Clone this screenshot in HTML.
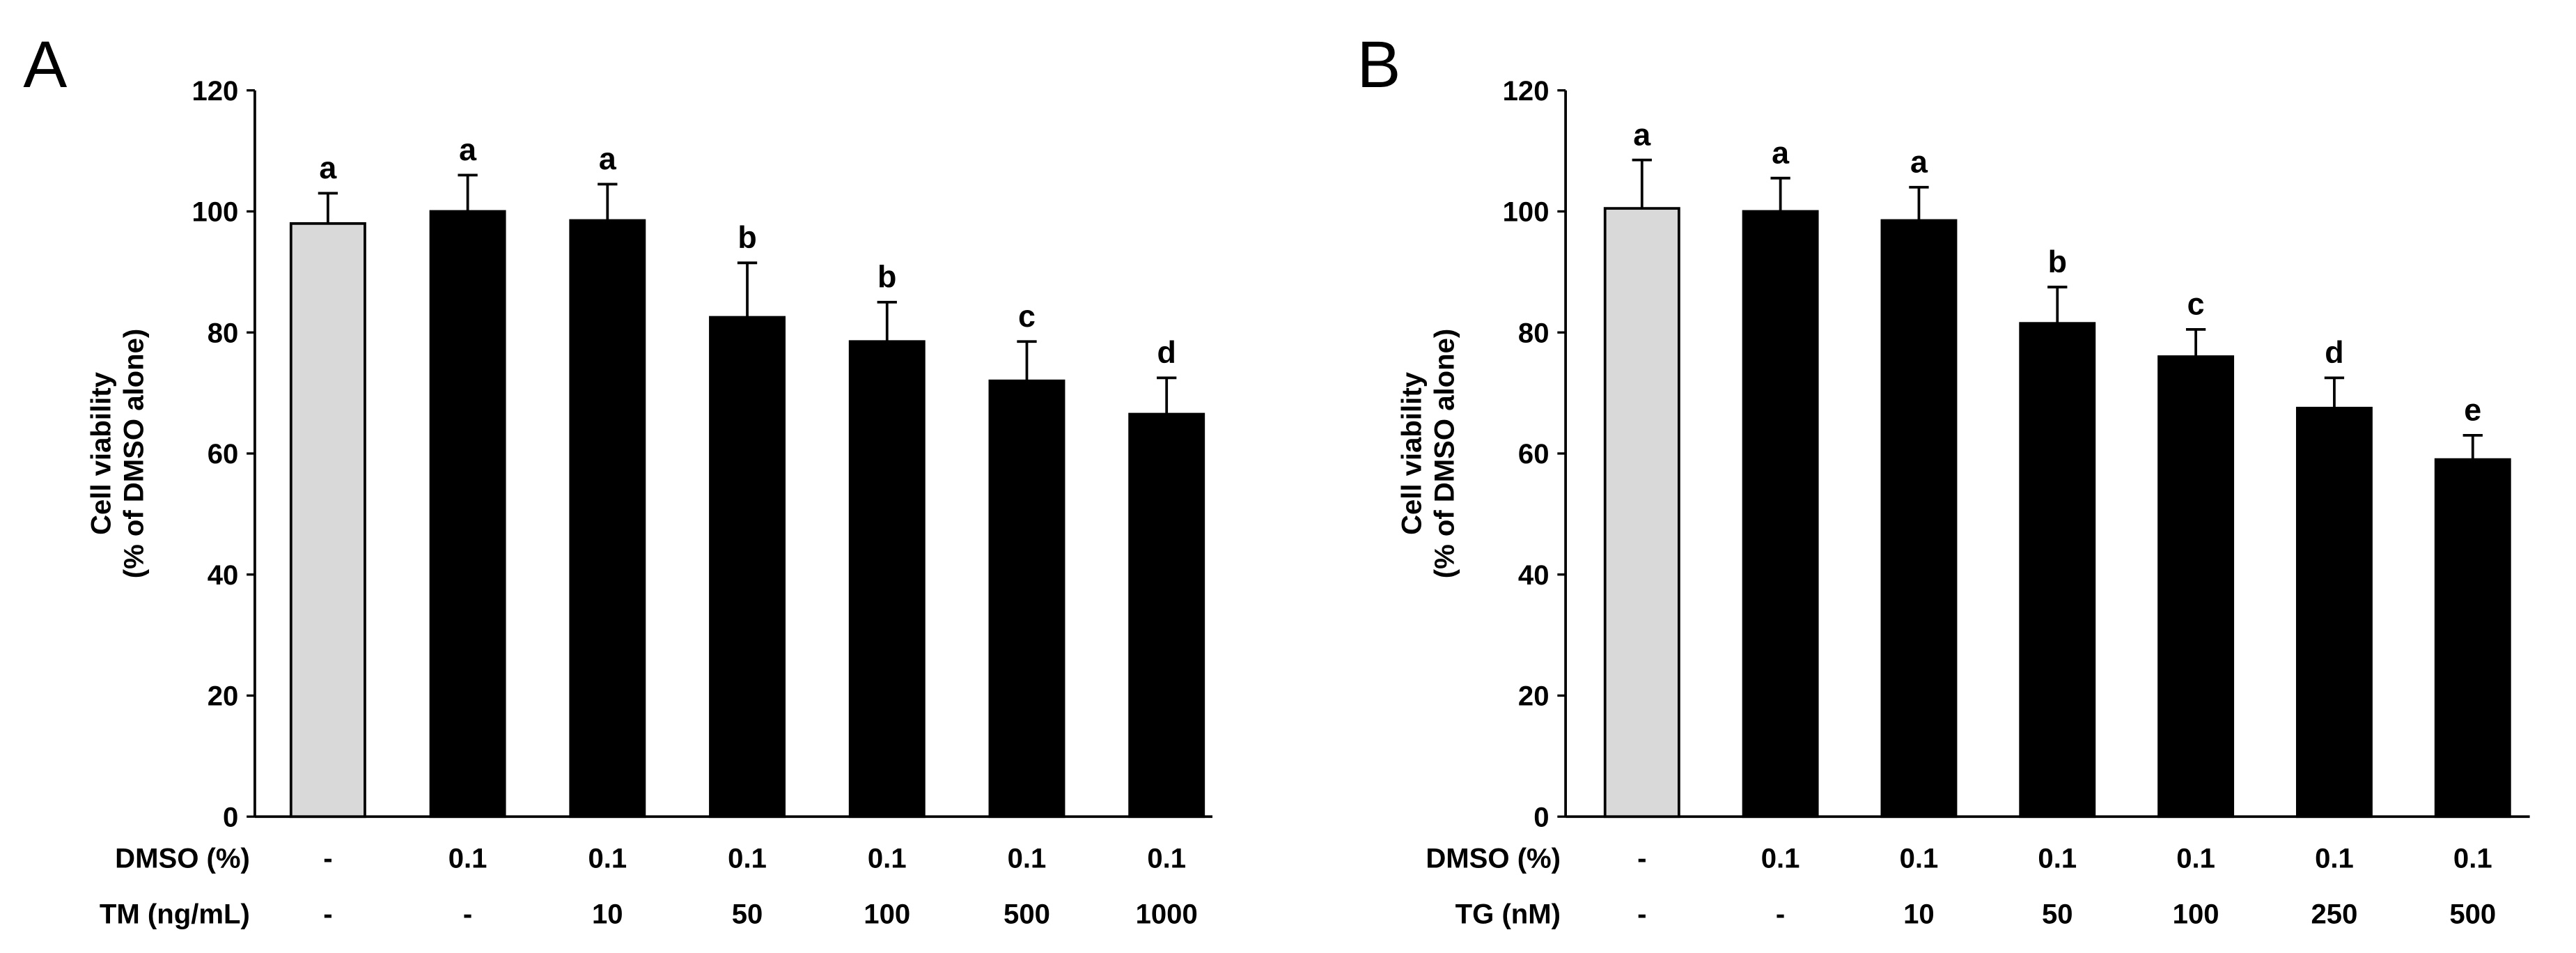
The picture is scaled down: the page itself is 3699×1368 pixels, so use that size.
<!DOCTYPE html>
<html><head><meta charset="utf-8"><style>
html,body{margin:0;padding:0;background:#fff;}
svg{display:block;}
text{font-family:"Liberation Sans Narrow","Liberation Sans",sans-serif;font-weight:bold;fill:#000;}
</style></head><body>
<svg id="fig" width="3699" height="1368" viewBox="0 0 1568 580">
<text x="14" y="53" style="font-family:'Liberation Sans',sans-serif;font-weight:normal;font-size:40px">A</text>
<text x="826" y="53" style="font-family:'Liberation Sans',sans-serif;font-weight:normal;font-size:40px">B</text>
</svg>
<script>
const yTicks=[0,20,40,60,80,100,120];
const dmsoLabels=["-","0.1","0.1","0.1","0.1","0.1","0.1"];
const tmLabels=["-","-","10","50","100","500","1000"];
const tgLabels=["-","-","10","50","100","250","500"];
const valuesA=[98,100,98.5,82.5,78.5,72,66.5];
const errTopA=[103,106,104.5,91.5,85,78.5,72.5];
const lettersA=["a","a","a","b","b","c","d"];
const valuesB=[100.5,100,98.5,81.5,76,67.5,59];
const errTopB=[108.5,105.5,104,87.5,80.5,72.5,63];
const lettersB=["a","a","a","b","c","d","e"];
const NS="http://www.w3.org/2000/svg";
const svg=document.getElementById('fig');
function mk(tag,attrs,txt){const e=document.createElementNS(NS,tag);for(const k in attrs)e.setAttribute(k,attrs[k]);if(txt!==undefined)e.textContent=txt;svg.appendChild(e);return e;}
function panel(p,ax,x0c,dx,xEnd,vals,errs,letters,row2,row2Title){
  const y=v=>497-v*(442/120);
  const xc=i=>x0c+i*dx;
  let e;
  e=mk('line',{x1:ax,y1:y(0),x2:ax,y2:y(120),stroke:'#000','stroke-width':1.6});
  
  
  e=mk('line',{x1:ax,y1:y(0),x2:xEnd,y2:y(0),stroke:'#000','stroke-width':1.6});
  
  
  yTicks.forEach(t=>{
    mk('line',{x1:ax-5,y1:y(t),x2:ax,y2:y(t),stroke:'#000','stroke-width':1.4});
    e=mk('text',{x:ax-10,y:y(t)+6,'text-anchor':'end','font-size':17},String(t));
    
    
  });
  const bw=45;
  vals.forEach((v,i)=>{
    e=mk('line',{x1:xc(i),y1:y(v),x2:xc(i),y2:y(errs[i]),stroke:'#000','stroke-width':1.6});
    
    
    mk('line',{x1:xc(i)-6,y1:y(errs[i]),x2:xc(i)+6,y2:y(errs[i]),stroke:'#000','stroke-width':1.6});
    e=mk('rect',{x:xc(i)-bw/2,y:y(v),width:bw,height:y(0)-y(v),fill:i===0?'#d9d9d9':'#000',stroke:'#000','stroke-width':1.6});
    
    
    e=mk('text',{x:xc(i),y:y(errs[i])-9,'text-anchor':'middle','font-size':19},letters[i]);
    
    
    e=mk('text',{x:xc(i),y:528,'text-anchor':'middle','font-size':17},dmsoLabels[i]);
    
    
    e=mk('text',{x:xc(i),y:562,'text-anchor':'middle','font-size':17},row2[i]);
    
    
  });
  e=mk('text',{x:ax-3,y:528,'text-anchor':'end','font-size':17},'DMSO (%)');
  
  
  e=mk('text',{x:ax-3,y:562,'text-anchor':'end','font-size':17},row2Title);
  
  
  const tx=ax-88, ty=276;
  e=mk('text',{x:tx,y:ty,'text-anchor':'middle','font-size':17,transform:`rotate(-90 ${tx} ${ty})`},'Cell viability');
  
  
  e=mk('text',{x:tx+20,y:ty,'text-anchor':'middle','font-size':17,transform:`rotate(-90 ${tx+20} ${ty})`},'(% of DMSO alone)');
  
  
}
panel('panel-a',155,199.5,85.1,738,valuesA,errTopA,lettersA,tmLabels,'TM (ng/mL)');
panel('panel-b',953,999.5,84.3,1540,valuesB,errTopB,lettersB,tgLabels,'TG (nM)');
</script>
</body></html>
